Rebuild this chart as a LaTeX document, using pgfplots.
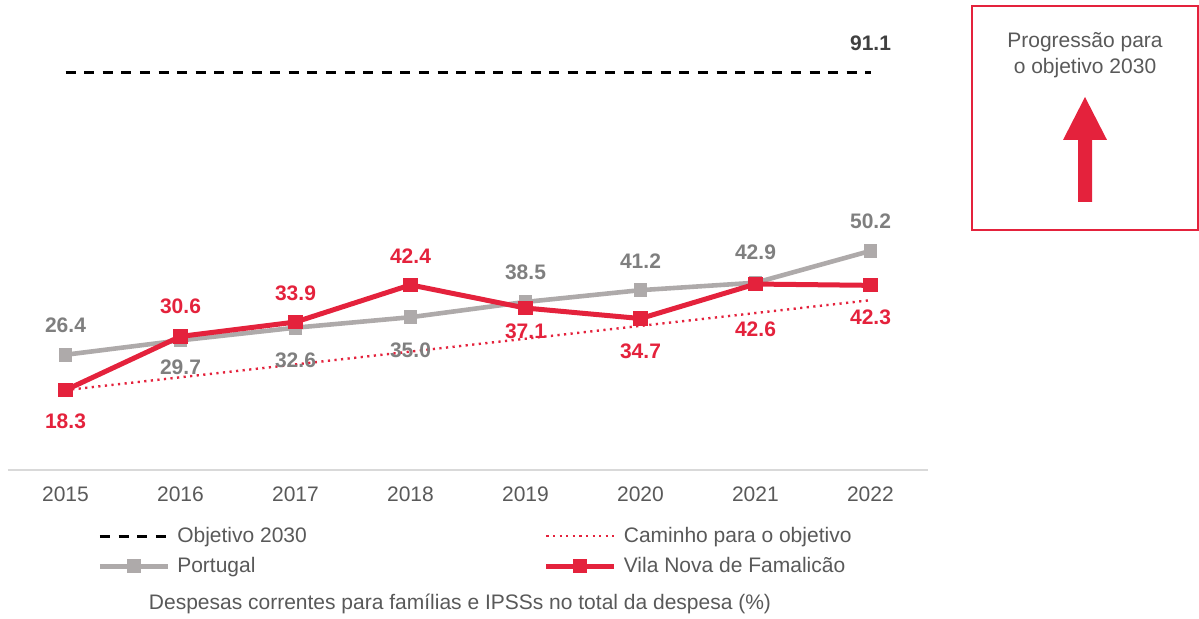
\documentclass[border=0pt]{standalone}
\usepackage{pgfplots}
\pgfplotsset{compat=1.18}
\usepackage{fontspec}
\setmainfont{Liberation Sans}
\definecolor{vred}{HTML}{E4223C}
\definecolor{pgray}{HTML}{AEAAAA}
\definecolor{lgray}{HTML}{7F7F7F}
\definecolor{tgray}{HTML}{595959}
\definecolor{dgray}{HTML}{404040}
\definecolor{agray}{HTML}{D9D9D9}
\begin{document}
\begin{tikzpicture}
\useasboundingbox (0,0) rectangle (599.5pt,309.5pt);
\fontsize{10.5}{12.6}\selectfont
\begin{axis}[
  at={(4pt,74.5pt)}, anchor=south west,
  scale only axis, width=460pt, height=218.25pt,
  xmin=2014.5, xmax=2022.5, ymin=0, ymax=100,
  axis y line=none, axis x line=bottom,
  x axis line style={agray, line width=1pt, -},
  xtick={2015,...,2022}, major tick length=0pt,
  xticklabel style={/pgf/number format/1000 sep={}, text=tgray, font=\fontsize{10.5}{12.6}\selectfont, yshift=-4.5pt},
  /pgf/number format/assume math mode=true,
  clip=false,
  legend columns=2,
  legend style={draw=none, fill=none, at={(0.0905,-0.111)}, anchor=north west,
    font=\fontsize{10.5}{12.6}\selectfont, text=tgray,
    /tikz/every odd column/.append style={column sep=1.5pt},
    /tikz/every even column/.append style={column sep=116.5pt},
    row sep=2pt},
  legend cell align=left,
  legend image code/.code={\draw[mark repeat=2,mark phase=2] plot coordinates {(0pt,0pt) (17pt,0pt) (34pt,0pt)};},
]
\addplot[black, line width=1.5pt, dash pattern=on 5pt off 4.3pt] coordinates {(2015,91.1) (2022,91.1)};
\addlegendentry{Objetivo 2030}
\addplot[vred, line width=1.2pt, dash pattern=on 1.1pt off 2.2pt] coordinates {(2015,18.3) (2022,38.9)};
\addlegendentry{Caminho para o objetivo}
\addplot[pgray, line width=2.3pt, mark=square*, mark size=3.2pt, mark options={solid, fill=pgray, draw=pgray, line width=0pt}] coordinates {
(2015,26.4) (2016,29.7) (2017,32.6) (2018,35.0) (2019,38.5) (2020,41.2) (2021,42.9) (2022,50.2)};
\addlegendentry{Portugal}
\addplot[vred, line width=2.5pt, mark=square*, mark size=3.3pt, mark options={solid, fill=vred, draw=vred, line width=0pt}] coordinates {
(2015,18.3) (2016,30.6) (2017,33.9) (2018,42.4) (2019,37.1) (2020,34.7) (2021,42.6) (2022,42.3)};
\addlegendentry{Vila Nova de Famalicão}

\begin{scope}[every node/.style={font=\bfseries\fontsize{10.5}{12.6}\selectfont, anchor=center, inner sep=0pt}]
\node[text=dgray] at (axis cs:2022,91.1) [yshift=14.3pt] {91.1};
\node[text=lgray] at (axis cs:2015,26.4) [yshift=14.5pt] {26.4};
\node[text=lgray] at (axis cs:2016,29.7) [yshift=-13.6pt] {29.7};
\node[text=lgray] at (axis cs:2017,32.6) [yshift=-16.2pt] {32.6};
\node[text=lgray] at (axis cs:2018,35.0) [yshift=-16.4pt] {35.0};
\node[text=lgray] at (axis cs:2019,38.5) [yshift=14.6pt] {38.5};
\node[text=lgray] at (axis cs:2020,41.2) [yshift=14.6pt] {41.2};
\node[text=lgray] at (axis cs:2021,42.9) [yshift=15.3pt] {42.9};
\node[text=lgray] at (axis cs:2022,50.2) [yshift=14.6pt] {50.2};
\node[text=vred] at (axis cs:2015,18.3) [yshift=-15.8pt] {18.3};
\node[text=vred] at (axis cs:2016,30.6) [yshift=14.9pt] {30.6};
\node[text=vred] at (axis cs:2017,33.9) [yshift=14.5pt] {33.9};
\node[text=vred] at (axis cs:2018,42.4) [yshift=14.5pt] {42.4};
\node[text=vred] at (axis cs:2019,37.1) [yshift=-11.5pt] {37.1};
\node[text=vred] at (axis cs:2020,34.7) [yshift=-16.6pt] {34.7};
\node[text=vred] at (axis cs:2021,42.6) [yshift=-22.5pt] {42.6};
\node[text=vred] at (axis cs:2022,42.3) [yshift=-16.2pt] {42.3};
\end{scope}
\end{axis}
% caption
\node[text=tgray, anchor=center] at (230pt,7.5pt) {Despesas correntes para famílias e IPSSs no total da despesa (\%)};
% right box
\draw[vred, line width=1pt] (486pt,306.5pt) rectangle (599pt,194.5pt);
\node[text=tgray, align=center, anchor=center, inner sep=0pt] at (542.5pt,282pt) {Progressão para\\[0.6pt] o objetivo 2030};
\fill[vred] (542.5pt,261pt) -- (553.5pt,239.5pt) -- (546pt,239.5pt) -- (546pt,208.5pt) -- (539pt,208.5pt) -- (539pt,239.5pt) -- (531.5pt,239.5pt) -- cycle;
\end{tikzpicture}
\end{document}
